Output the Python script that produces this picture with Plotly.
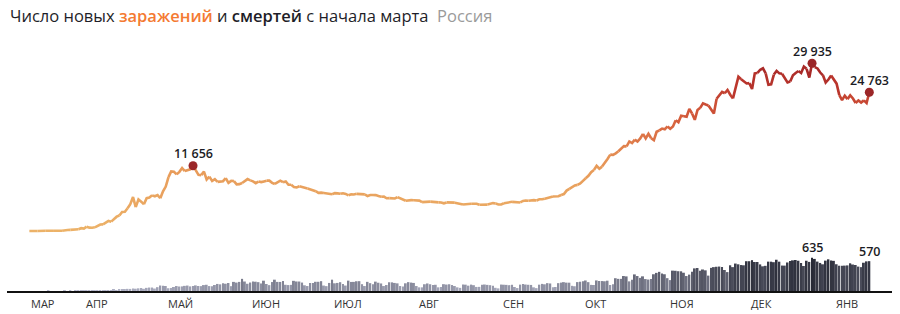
import plotly.graph_objects as go
import pandas as pd

start_date = "2020-03-12"

cases = [
    6, 17, 14, 4, 27, 24, 33, 52, 54, 53, 61, 71, 57, 163, 182, 196, 228, 270, 302, 501,
    440, 771, 601, 582, 658, 954, 1154, 1175, 1459, 1786, 1667, 2186, 2558, 2774, 3388, 3448, 4070, 4785, 6060, 4268,
    5642, 5236, 4774, 5849, 5966, 6361, 6198, 6411, 5841, 7099,
    7933, 9623, 10633, 10581, 10102, 10559, 11231, 10699, 10817, 11012, 11656, 10899, 10028, 9974, 10598, 9200, 9709,
    8926, 9263, 8764, 8849, 8894, 9434, 8599, 8946, 8915, 8338, 8371, 8572, 8952, 9268,
    9035, 8863, 8536, 8831, 8726, 8855, 8984, 8985, 8595, 8404, 8779, 8987, 8706, 8835, 8246, 8248, 7843, 7790, 7972,
    7889, 7728, 7600, 7425, 7176, 7113, 6800, 6852, 6791, 6719, 6693,
    6556, 6760, 6718, 6632, 6736, 6611, 6368, 6562, 6509, 6635, 6615, 6611, 6537, 6248, 6422, 6428, 6406, 6234, 6109,
    6139, 5842, 5862, 5848, 5811, 6045, 5871, 5635, 5395, 5475, 5509, 5482,
    5462, 5427, 5159, 5204, 5267, 5241, 5212, 5189, 5118, 5102, 4945, 5102, 5057, 5065, 5061, 4969, 4839, 4718, 4748,
    4767, 4870, 4921, 4852, 4676, 4696, 4744, 4711, 4829, 4980, 4897, 4729,
    4729, 4952, 4995, 5110, 5205, 5195, 5185, 5099, 5363, 5449, 5406, 5488, 5509, 5449, 5670, 5670, 5762, 5905, 6065,
    6148, 6196, 6215, 6431, 6595, 7212, 7523, 7867, 8135, 8232, 8481,
    8945, 9412, 9859, 10499, 10888, 11615, 11115, 11493, 12126, 12846, 13634, 13592, 13868, 14231, 14717, 15150, 15099,
    15982, 15700, 16319, 15971, 16521, 17340, 16521, 17347, 16550, 16202, 17717, 17976, 18283, 18140,
    18665, 18257, 18648, 19768, 19404, 20582, 20498, 20396, 21798, 20977, 19851, 21608, 21983, 22778, 22572, 22410,
    21798, 20985, 23610, 24318, 24822, 24581, 25173, 24326, 23675, 25487, 27543, 27100, 26683, 26338,
    26402, 25345, 28145, 28209, 28782, 29039, 28142, 26097, 26190, 27927, 28585, 28137, 28080, 27328, 26509, 26689,
    27787, 28214, 28552, 28209, 29350, 28948, 27402, 29935, 29258, 29018, 28284, 27787, 26513, 27039, 27747,
    27029, 26301, 24246, 23351, 24150, 23541, 24217, 23652, 22851, 23309, 22934, 23315, 22857, 24763,
]

deaths = [
    0, 0, 0, 0, 0, 0, 0, 1, 0, 0, 0, 0, 0, 2, 0, 1, 0, 4, 1, 8,
    7, 6, 4, 9, 2, 2, 11, 5, 13, 18, 12, 24, 18, 22, 28, 34, 41, 40, 48, 44, 51, 57, 42, 60, 66, 66, 47, 73, 105, 101,
    96, 53, 58, 76, 95, 86, 88, 98, 104, 88, 94, 107, 96, 93, 113, 119, 94, 91, 115, 135, 127, 150, 139, 153, 92, 174,
    161, 174, 232, 181, 138,
    162, 182, 178, 169, 144, 197, 134, 112, 171, 216, 174, 173, 193, 119, 113, 117, 194, 182, 181, 161, 109, 95, 153,
    154, 176, 176, 188, 104, 93, 154,
    216, 147, 154, 168, 135, 104, 198, 173, 174, 186, 188, 130, 95, 175, 150, 129, 179, 158, 144, 95, 114, 167, 165,
    154, 146, 95, 85, 147, 169, 161, 154,
    95, 70, 70, 129, 144, 129, 114, 119, 70, 77, 130, 123, 129, 114, 95, 70, 60, 123, 121, 102, 122, 111, 78, 79, 119,
    124, 117, 111, 102, 61, 50,
    123, 120, 117, 112, 119, 76, 56, 122, 132, 124, 119, 116, 70, 55, 121, 136, 128, 150, 144, 70, 77, 150, 160, 169,
    160, 159, 99, 91, 170, 177,
    186, 201, 169, 117, 115, 202, 191, 190, 186, 197, 115, 130, 244, 232, 232, 286, 279, 184, 215, 317, 286, 251, 280,
    228, 219, 229, 320, 346, 366, 334, 320,
    245, 208, 389, 386, 378, 376, 349, 286, 313, 368, 432, 439, 387, 411, 395, 294, 442, 456, 463, 467, 459, 401, 361,
    491, 456, 524, 510, 496, 491, 569,
    569, 589, 554, 554, 508, 471, 481, 561, 560, 550, 597, 560, 486, 485, 545, 573, 585, 592, 578, 535, 478, 578, 556,
    635, 613, 562, 536, 510, 580, 605, 583,
    576, 511, 483, 482, 485, 489, 529, 506, 497, 466, 456, 540, 566, 570,
]

month_labels = ["МАР", "АПР", "МАЙ", "ИЮН", "ИЮЛ", "АВГ", "СЕН", "ОКТ", "НОЯ", "ДЕК", "ЯНВ"]
month_label_dates = ["2020-03-12", "2020-04-01", "2020-05-01", "2020-06-01", "2020-07-01", "2020-08-01",
                     "2020-09-01", "2020-10-01", "2020-11-01", "2020-12-01", "2021-01-01"]

dates = pd.date_range(start_date, periods=len(cases), freq="D")
n = len(cases)


def lerp(c1, c2, t):
    return tuple(c1[i] + (c2[i] - c1[i]) * t for i in range(3))


line_stops = [(0, (236, 178, 104)), (12000, (231, 152, 88)), (20000, (214, 94, 60)),
              (26000, (188, 55, 45)), (30000, (160, 36, 38))]


def line_color(v):
    for (v1, c1), (v2, c2) in zip(line_stops[:-1], line_stops[1:]):
        if v <= v2:
            t = max(0.0, (v - v1) / (v2 - v1))
            c = lerp(c1, c2, t)
            return "rgb(%d,%d,%d)" % tuple(round(x) for x in c)
    return "rgb(%d,%d,%d)" % line_stops[-1][1]


def bar_color(v):
    t = min(1.0, max(0.0, v / 635.0)) ** 0.8
    c = lerp((186, 188, 208), (40, 42, 54), t)
    return "rgb(%d,%d,%d)" % tuple(round(x) for x in c)


fig = go.Figure()

# deaths bars
fig.add_trace(go.Bar(
    x=dates, y=deaths, yaxis="y2",
    marker=dict(color=[bar_color(v) for v in deaths], line=dict(width=0)),
    hoverinfo="skip", showlegend=False,
))

# cases line, split into coloured chunks
step = 3
for i in range(0, n - 1, step):
    j = min(i + step, n - 1)
    seg_vals = cases[i:j + 1]
    col = line_color(sum(seg_vals) / len(seg_vals))
    fig.add_trace(go.Scatter(
        x=dates[i:j + 1], y=seg_vals, mode="lines",
        line=dict(color=col, width=2.6, shape="linear"),
        hoverinfo="skip", showlegend=False,
    ))

# highlighted points
i_max = max(range(n), key=lambda k: cases[k])
i_may = max(range(0, 120), key=lambda k: cases[k])
i_last = n - 1
hl = [i_may, i_max, i_last]
fig.add_trace(go.Scatter(
    x=[dates[k] for k in hl], y=[cases[k] for k in hl], mode="markers",
    marker=dict(color="#9b2628", size=9),
    hoverinfo="skip", showlegend=False,
))

def fmt(v):
    return "{:,}".format(v).replace(",", " ")

annotations = []
for k in hl:
    annotations.append(dict(
        x=dates[k], y=cases[k], xref="x", yref="y", text=fmt(cases[k]),
        showarrow=False, yshift=12, xanchor="center", yanchor="middle",
        font=dict(family="Open Sans", size=12.5, color="#1b1b24", weight=600),
    ))

d_max = max(range(n), key=lambda k: deaths[k])
for k in [d_max, n - 1]:
    annotations.append(dict(
        x=dates[k], y=deaths[k], xref="x", yref="y2", text=fmt(deaths[k]),
        showarrow=False, yshift=10, xanchor="center", yanchor="middle",
        font=dict(family="Open Sans", size=12.5, color="#1b1b24", weight=600),
    ))

for lab, d in zip(month_labels, month_label_dates):
    annotations.append(dict(
        x=d, y=-0.046, xref="x", yref="paper", text=lab, showarrow=False,
        xanchor="left", yanchor="middle",
        font=dict(family="Open Sans", size=11, color="#333333"),
    ))

title = ("Число новых <span style='color:#f47a32;font-weight:600'>заражений</span> и "
         "<span style='font-weight:600'>смертей</span> с начала марта  "
         "<span style='color:#9a9a9a'>Россия</span>")
annotations.append(dict(
    x=0.001, y=1.054, xref="paper", yref="paper", text=title, showarrow=False,
    xanchor="left", yanchor="middle",
    font=dict(family="Open Sans", size=16.5, color="#1e1e28"),
))

t0 = pd.Timestamp(start_date)
px_per_day = 2.727
x0 = t0 - pd.Timedelta(days=(29.4 - 7) / px_per_day)
x1 = t0 + pd.Timedelta(days=(892 - 29.4) / px_per_day)

fig.update_layout(
    width=900, height=314,
    margin=dict(l=7, r=8, t=30, b=23),
    paper_bgcolor="white", plot_bgcolor="white",
    bargap=0.28,
    xaxis=dict(range=[x0, x1], type="date", showgrid=False, zeroline=False,
               showticklabels=False, ticks="", showline=True, linecolor="#111111", linewidth=2),
    yaxis=dict(range=[-10710, 35878], visible=False, showgrid=False, zeroline=False),
    yaxis2=dict(range=[0, 4985], overlaying="y", visible=False, showgrid=False, zeroline=False),
    annotations=annotations,
    showlegend=False,
)

fig.write_html("out.html")
